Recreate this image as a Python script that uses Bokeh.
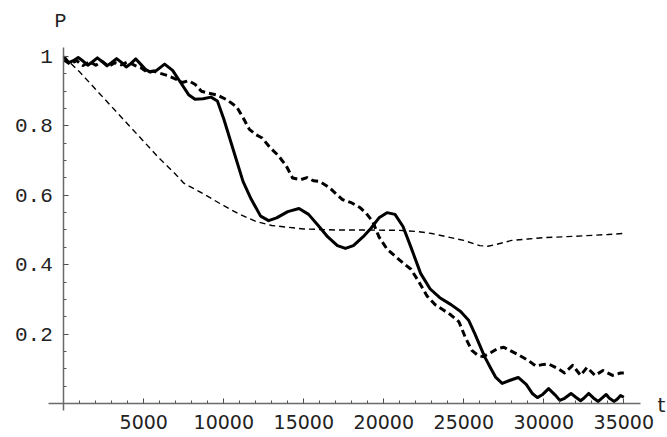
from bokeh.plotting import figure
from bokeh.models import Range1d, LinearAxis, FixedTicker, CustomJSTickFormatter, Label
from bokeh.embed import file_html
from bokeh.resources import INLINE

# Solid curve
t_solid = [0, 300, 600, 900, 1200, 1500, 1800, 2100, 2400, 2700, 3000, 3300, 3600,
           3900, 4200, 4500, 4800, 5100, 5400, 5800, 6300, 6800, 7300, 7800, 8200,
           8700, 9200, 9600, 10000, 10600, 11200, 11700, 12300, 12800, 13300, 14000,
           14700, 15300, 15900, 16500, 17100, 17600, 18100, 18700, 19200, 19700,
           20200, 20700, 21200, 21700, 22300, 22900, 23500, 24200, 24800, 25300,
           25700, 26300, 26700, 27000, 27400, 27900, 28400, 28900, 29300, 29600,
           29900, 30300, 30700, 31000, 31300, 31700, 32000, 32300, 32500, 32800,
           33100, 33400, 33600, 33900, 34100, 34400, 34600, 34800, 35000]
p_solid = [1.0, 0.982, 0.988, 0.997, 0.987, 0.975, 0.985, 0.996, 0.985, 0.973,
           0.983, 0.994, 0.983, 0.97, 0.98, 0.993, 0.978, 0.963, 0.955, 0.96,
           0.978, 0.96, 0.925, 0.89, 0.877, 0.878, 0.883, 0.872, 0.82, 0.73, 0.64,
           0.59, 0.54, 0.527, 0.535, 0.553, 0.562, 0.545, 0.513, 0.48, 0.455, 0.447,
           0.455, 0.48, 0.505, 0.535, 0.55, 0.545, 0.51, 0.45, 0.375, 0.33, 0.305,
           0.285, 0.265, 0.24, 0.2, 0.135, 0.1, 0.075, 0.058, 0.067, 0.075, 0.055,
           0.028, 0.017, 0.025, 0.043, 0.025, 0.009, 0.015, 0.029, 0.018, 0.008,
           0.015, 0.029, 0.016, 0.006, 0.014, 0.026, 0.015, 0.006, 0.013, 0.023,
           0.018]

# Thick dashed curve
t_dash = [0, 400, 800, 1200, 1600, 2000, 2400, 2800, 3200, 3600, 4000, 4400, 4800,
          5200, 5600, 6000, 6500, 7000, 7400, 7800, 8200, 8600, 9000, 9600, 10200,
          10800, 11200, 11600, 12000, 12400, 12900, 13400, 13900, 14300, 14800,
          15200, 15600, 16000, 16600, 17000, 17400, 18000, 18500, 18900, 19300,
          19700, 20200, 20700, 21200, 21700, 22200, 22700, 23200, 23700, 24200,
          24700, 25100, 25500, 25900, 26200, 26700, 27100, 27500, 28000, 28500,
          29000, 29500, 29900, 30300, 30900, 31300, 31800, 32300, 32700, 33200,
          33700, 34300, 34800, 35000]
p_dash = [0.99, 0.978, 0.988, 0.974, 0.985, 0.975, 0.986, 0.972, 0.982, 0.976,
          0.985, 0.975, 0.968, 0.955, 0.958, 0.952, 0.945, 0.935, 0.925, 0.93,
          0.92, 0.9, 0.895, 0.889, 0.875, 0.855, 0.824, 0.79, 0.775, 0.765, 0.737,
          0.715, 0.685, 0.65, 0.645, 0.651, 0.642, 0.64, 0.622, 0.605, 0.588,
          0.578, 0.565, 0.548, 0.525, 0.48, 0.445, 0.425, 0.405, 0.387, 0.35, 0.31,
          0.285, 0.27, 0.255, 0.235, 0.19, 0.153, 0.138, 0.135, 0.147, 0.158,
          0.162, 0.15, 0.138, 0.125, 0.108, 0.112, 0.114, 0.1, 0.088, 0.11, 0.081,
          0.104, 0.081, 0.095, 0.081, 0.088, 0.088]

# Thin dashed curve
t_thin = [0, 1000, 2000, 3000, 4000, 5000, 6000, 7000, 7500, 8500, 10000, 11000,
          12000, 13000, 15000, 17000, 19000, 21000, 22000, 23000, 24000, 25000,
          26000, 26500, 27000, 28000, 29000, 30000, 32000, 34000, 35000]
p_thin = [1.0, 0.955, 0.905, 0.855, 0.805, 0.755, 0.705, 0.66, 0.635, 0.61, 0.57,
          0.545, 0.525, 0.513, 0.503, 0.5, 0.5, 0.499, 0.496, 0.49, 0.48, 0.47,
          0.455, 0.453, 0.458, 0.47, 0.474, 0.478, 0.482, 0.487, 0.49]

x_major = [5000, 10000, 15000, 20000, 25000, 30000, 35000]
x_minor = list(range(1000, 36000, 1000))
y_major = [0.2, 0.4, 0.6, 0.8, 1.0]
y_minor = [round(0.05 * k, 2) for k in range(1, 21)]

# The frame fills the whole canvas; axes cross at the origin
p = figure(width=667, height=437, output_backend="svg", toolbar_location=None,
           x_range=Range1d(-3956, 37731), y_range=Range1d(-0.098, 1.1614),
           x_axis_type=None, y_axis_type=None,
           min_border_left=0, min_border_right=0,
           min_border_top=0, min_border_bottom=0)
p.outline_line_color = None
p.background_fill_color = "white"

axis_col = "#6a6a6a"

xaxis = LinearAxis(fixed_location=0, bounds=(-956, 36044),
                   ticker=FixedTicker(ticks=x_major, minor_ticks=x_minor))
xaxis.axis_line_color = axis_col
xaxis.axis_line_width = 1.5
xaxis.major_tick_in = 5
xaxis.major_tick_out = 0
xaxis.minor_tick_in = 3
xaxis.minor_tick_out = 0
xaxis.major_tick_line_color = "#444444"
xaxis.minor_tick_line_color = "#555555"
xaxis.major_label_standoff = 12
xaxis.major_label_text_font = "DejaVu Sans"
xaxis.major_label_text_font_size = "19px"
xaxis.major_label_text_color = "#222222"
p.add_layout(xaxis, "below")

yaxis = LinearAxis(fixed_location=0, bounds=(-0.02, 1.026),
                   ticker=FixedTicker(ticks=y_major, minor_ticks=y_minor),
                   formatter=CustomJSTickFormatter(code="return String(Math.round(tick*10)/10);"))
yaxis.axis_line_color = axis_col
yaxis.axis_line_width = 1.5
yaxis.major_tick_in = 5
yaxis.major_tick_out = 0
yaxis.minor_tick_in = 3
yaxis.minor_tick_out = 0
yaxis.major_tick_line_color = "#444444"
yaxis.minor_tick_line_color = "#555555"
yaxis.major_label_standoff = 11
yaxis.major_label_text_font = "Liberation Mono"
yaxis.major_label_text_font_size = "21px"
yaxis.major_label_text_color = "#222222"
p.add_layout(yaxis, "left")

p.line(t_thin, p_thin, line_color="black", line_width=1.4, line_dash="6 4")
p.line(t_dash, p_dash, line_color="black", line_width=3, line_dash="7 4",
       line_join="round")
p.line(t_solid, p_solid, line_color="black", line_width=3, line_join="round")

p.add_layout(Label(x=-200, y=1.1, text="P", text_font="Liberation Mono",
                   text_font_size="20px", text_align="center",
                   text_baseline="middle", text_color="#222222"))
p.add_layout(Label(x=37350, y=-0.005, text="t", text_font="DejaVu Sans",
                   text_font_size="20px", text_align="center",
                   text_baseline="middle", text_color="#222222"))

open("out.html", "w").write(file_html(p, INLINE))
